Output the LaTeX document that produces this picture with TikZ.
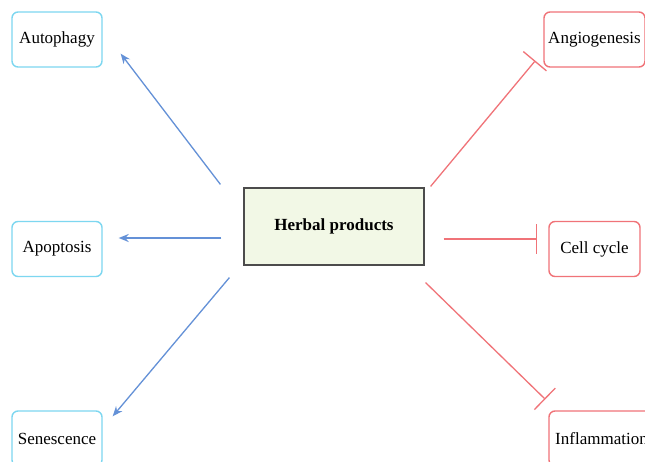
\documentclass[tikz,border=0pt]{standalone}
\usepackage{fontspec}
\setmainfont{Liberation Serif}
\usetikzlibrary{calc,arrows.meta}
\definecolor{induceblue}{RGB}{100,145,215}
\definecolor{inhibitred}{RGB}{240,115,120}
\definecolor{boxcyan}{RGB}{125,215,240}
\definecolor{herbalfill}{RGB}{242,248,230}
\tikzset{
    induce box/.style={
        draw=boxcyan, line width=1.4pt, rounded corners=6pt,
        fill=white, inner sep=0pt, align=center,
        minimum width=90pt, minimum height=55pt
    },
    inhibit box/.style={
        draw=inhibitred, line width=1.4pt, rounded corners=6pt,
        fill=white, inner sep=0pt, align=center,
        minimum height=55pt
    },
    herbal box/.style={
        draw=black!70, line width=1.2pt, fill=herbalfill,
        inner sep=0pt, minimum width=180pt, minimum height=77pt,
        font=\fontsize{17}{20}\selectfont\bfseries
    },
    induce line/.style={
        line width=1.3pt, induceblue,
        -{Stealth[length=10pt,width=8pt]}
    },
    inhibit line/.style={
        line width=1.3pt, inhibitred,
        -{Bar[width=30pt,line width=1.3pt]}
    }
}
\begin{document}
\begin{tikzpicture}[x=1pt,y=-1pt,font=\fontsize{17}{20}\selectfont]
    \clip(0,0)rectangle(645,461);
    \fill[white](0,0)rectangle(645,461);
    \node[herbal box](herbal)at(334,226.5){Herbal products};
    \node[induce box](autophagy)at(57,39.5){Autophagy};
    \node[induce box](apoptosis)at(57,249){Apoptosis};
    \node[induce box](senescence)at(57,438.5){Senescence};
    \node[inhibit box,minimum width=101pt](angiogenesis)at(594.5,39.5){Angiogenesis};
    \node[inhibit box,minimum width=91pt](cellcycle)at(594.5,249){Cell cycle};
    \node[inhibit box,minimum width=105pt](inflammation)at(601.5,438.5){Inflammation};
    \draw[induce line]
        ($(herbal.north west)+(-23,-3)$)--($(autophagy.south east)+(18,-14)$);
    \draw[induce line,line width=1.6pt]
        ($(herbal.west)+(-22,11.5)$)--($(apoptosis.east)+(16,-11)$);
    \draw[induce line]
        ($(herbal.south west)+(-14,12)$)--($(senescence.north east)+(10,6)$);
    \draw[inhibit line]
        ($(herbal.north east)+(6,-1)$)--($(angiogenesis.south west)+(-8,-7)$);
    \draw[inhibit line]
        ($(herbal.east)+(19,12.5)$)--($(cellcycle.west)+(-11,-10)$);
    \draw[inhibit line]
        ($(herbal.south east)+(1,17)$)--($(inflammation.north west)+(-3,-11)$);
\end{tikzpicture}
\end{document}
